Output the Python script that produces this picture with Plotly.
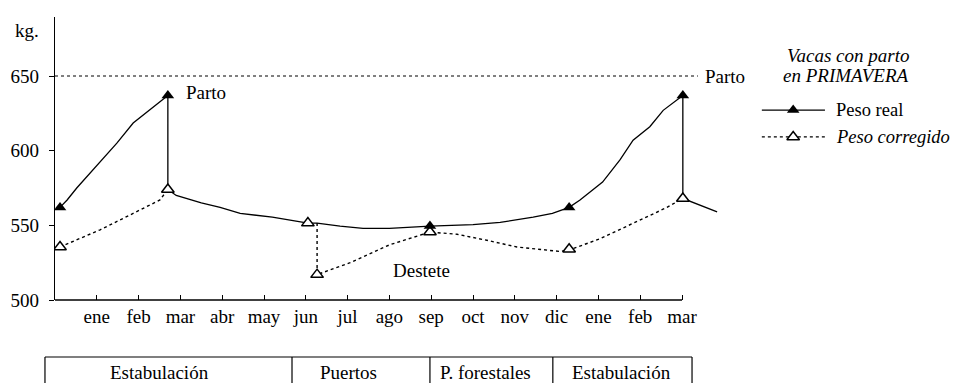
import plotly.graph_objects as go

# ---------------- data (x in month units: 0 = start tick, 1 = ene, ... 15 = mar) ----
month_ticks = list(range(0, 16))
month_labels = ["", "ene", "feb", "mar", "abr", "may", "jun", "jul", "ago",
                "sep", "oct", "nov", "dic", "ene", "feb", "mar"]

real_x = [0.12, 0.29, 0.52, 0.84, 1.48, 1.87, 2.35, 2.7, 2.7, 2.9, 3.5, 3.95, 4.43, 5.2, 6.05,
          6.27, 6.82, 7.37, 8.0, 8.97, 10.0, 10.65, 11.44, 11.9, 12.3, 12.56, 13.1, 13.52,
          13.83, 14.23, 14.55, 15.02, 15.02, 15.84]
real_kg = [562, 567, 575, 585, 605, 618.5, 629, 637, 574, 570, 565, 562, 558, 555.5, 551.5,
           551.5, 549.5, 548, 548, 549.5, 550.5, 552, 555.5, 558, 562, 567, 579, 594,
           607, 616, 627, 637, 568, 559]
real_mark_x = [0.12, 2.7, 8.97, 12.3, 15.02]
real_mark_kg = [562, 637, 549.5, 562, 637]

corr_x = [0.12, 1.08, 1.87, 2.51, 2.7, None, 6.27, 6.27, 7.06, 8.01, 8.97, 9.62, 10.33,
          11.05, 12.08, 12.3, 13.04, 13.83, 14.64, 15.02]
corr_kg = [535.5, 547, 558, 567, 574, None, 551.5, 517, 525, 537, 545.5, 544, 540,
           535.5, 532.5, 533.5, 541, 551.5, 562, 568]
corr_mark_x = [0.12, 2.7, 6.05, 6.27, 8.97, 12.3, 15.02]
corr_mark_kg = [535.5, 574, 551.5, 517, 545.5, 534, 568]

parto_kg = 650
y_ticks = [500, 550, 600, 650]

phases = ["Estabulación", "Puertos", "P. forestales", "Estabulación"]
phase_bounds = [-0.24, 5.67, 8.97, 11.91, 15.24]
phase_label_x = [2.51, 7.02, 10.3, 13.56]

# ---------------- layout constants ----------------
OFF = 8                      # default page body margin
W, H = 959 - OFF, 383 - OFF
PLOT_L, PLOT_R, PLOT_T, PLOT_B = 55, 954, 17, 300   # target window pixels
ML, MR = PLOT_L - OFF, W - (PLOT_R - OFF)
MT, MB = PLOT_T - OFF, H - (PLOT_B - OFF)
PX_PER_M = 41.8
PX_PER_KG = 224 / 150
XMAX = (PLOT_R - PLOT_L) / PX_PER_M
YMAX = 500 + (PLOT_B - PLOT_T) / PX_PER_KG
FONT = "Liberation Serif, Times New Roman, serif"
FS = 19


def xpaper(m):
    return m / XMAX


def ypaper_px(py):
    # window pixel row -> paper fraction
    return (PLOT_B - py) / (PLOT_B - PLOT_T)


fig = go.Figure()

fig.add_trace(go.Scatter(x=real_x, y=real_kg, mode="lines",
                         line=dict(color="black", width=1.3), showlegend=False, hoverinfo="skip"))
fig.add_trace(go.Scatter(x=corr_x, y=corr_kg, mode="lines", connectgaps=False,
                         line=dict(color="black", width=1.4, dash="3px,3px"),
                         showlegend=False, hoverinfo="skip"))
fig.add_trace(go.Scatter(x=corr_mark_x, y=corr_mark_kg, mode="markers",
                         marker=dict(symbol="triangle-up", size=11, color="white",
                                     line=dict(color="black", width=1.5)),
                         showlegend=False, hoverinfo="skip"))
fig.add_trace(go.Scatter(x=real_mark_x, y=real_mark_kg, mode="markers",
                         marker=dict(symbol="triangle-up", size=11, color="black",
                                     line=dict(color="black", width=0)),
                         showlegend=False, hoverinfo="skip"))

# legend samples (in data space to the right of the chart)
leg_x0, leg_x1, leg_xm = 16.91, 18.42, 17.66
leg_y_real, leg_y_corr = 627.2, 609.2
fig.add_trace(go.Scatter(x=[leg_x0, leg_x1], y=[leg_y_real, leg_y_real], mode="lines",
                         line=dict(color="black", width=1.3), showlegend=False, hoverinfo="skip"))
fig.add_trace(go.Scatter(x=[leg_x0, leg_x1], y=[leg_y_corr, leg_y_corr], mode="lines",
                         line=dict(color="black", width=1.3, dash="3px,3px"),
                         showlegend=False, hoverinfo="skip"))
fig.add_trace(go.Scatter(x=[leg_xm], y=[leg_y_real], mode="markers",
                         marker=dict(symbol="triangle-up", size=11, color="black"),
                         showlegend=False, hoverinfo="skip"))
fig.add_trace(go.Scatter(x=[leg_xm], y=[leg_y_corr], mode="markers",
                         marker=dict(symbol="triangle-up", size=11, color="white",
                                     line=dict(color="black", width=1.5)),
                         showlegend=False, hoverinfo="skip"))

shapes = []
shapes.append(dict(type="line", xref="x", yref="paper", x0=0, x1=15, y0=0, y1=0,
                   line=dict(color="black", width=1.3)))
shapes.append(dict(type="line", xref="x", yref="y", x0=0, x1=15.38, y0=parto_kg, y1=parto_kg,
                   line=dict(color="black", width=1, dash="3px,3px")))
ty0 = ypaper_px(357)
ty1 = ypaper_px(395)
shapes.append(dict(type="line", xref="paper", yref="paper",
                   x0=xpaper(phase_bounds[0]), x1=xpaper(phase_bounds[-1]), y0=ty0, y1=ty0,
                   line=dict(color="black", width=1.2)))
for b in phase_bounds:
    shapes.append(dict(type="line", xref="paper", yref="paper",
                       x0=xpaper(b), x1=xpaper(b), y0=ty0, y1=ty1,
                       line=dict(color="black", width=1.2)))

annotations = []
tf = dict(family=FONT, size=FS, color="black")
lf = dict(family=FONT, size=18.5, color="black")
annotations.append(dict(text="kg.", xref="paper", yref="paper", x=xpaper(-0.67), y=ypaper_px(30),
                        showarrow=False, font=tf, xanchor="center", yanchor="middle"))
annotations.append(dict(text="Parto", xref="x", yref="y", x=15.5, y=parto_kg,
                        showarrow=False, font=tf, xanchor="left", yanchor="middle"))
annotations.append(dict(text="Parto", xref="x", yref="y", x=3.08, y=639,
                        showarrow=False, font=tf, xanchor="left", yanchor="middle"))
annotations.append(dict(text="Destete", xref="x", yref="y", x=8.76, y=520,
                        showarrow=False, font=tf, xanchor="center", yanchor="middle"))
annotations.append(dict(text="<i>Vacas con parto</i>", xref="x", yref="y", x=20.48, y=663.4,
                        showarrow=False, font=tf, xanchor="right", yanchor="middle"))
annotations.append(dict(text="<i>en PRIMAVERA</i>", xref="x", yref="y", x=20.48, y=650.3,
                        showarrow=False, font=tf, xanchor="right", yanchor="middle"))
annotations.append(dict(text="Peso real", xref="x", yref="y", x=18.64, y=leg_y_real,
                        showarrow=False, font=lf, xanchor="left", yanchor="middle"))
annotations.append(dict(text="<i>Peso corregido</i>", xref="x", yref="y", x=18.64, y=leg_y_corr,
                        showarrow=False, font=lf, xanchor="left", yanchor="middle"))
for name, px in zip(phases, phase_label_x):
    annotations.append(dict(text=name, xref="paper", yref="paper", x=xpaper(px),
                            y=ypaper_px(372.5), showarrow=False, font=tf,
                            xanchor="center", yanchor="middle"))

fig.update_layout(
    width=W, height=H,
    margin=dict(l=ML, r=MR, t=MT, b=MB, pad=0, autoexpand=False),
    paper_bgcolor="white", plot_bgcolor="white",
    font=tf,
    shapes=shapes, annotations=annotations,
    showlegend=False,
    xaxis=dict(range=[0, XMAX], showgrid=False, zeroline=False, showline=False,
               automargin=False,
               tickmode="array", tickvals=month_ticks, ticktext=month_labels,
               ticks="inside", ticklen=5, tickwidth=1.2, tickcolor="black",
               ticklabelstandoff=3, tickfont=tf, fixedrange=True),
    yaxis=dict(range=[500, YMAX], showgrid=False, zeroline=False, showline=True,
               automargin=False,
               linecolor="black", linewidth=1.3,
               tickmode="array", tickvals=y_ticks,
               ticks="outside", ticklen=5, tickwidth=1.2, tickcolor="black",
               ticklabelstandoff=6, tickfont=tf, fixedrange=True),
)

fig.write_html("out.html", config={"displayModeBar": False})
